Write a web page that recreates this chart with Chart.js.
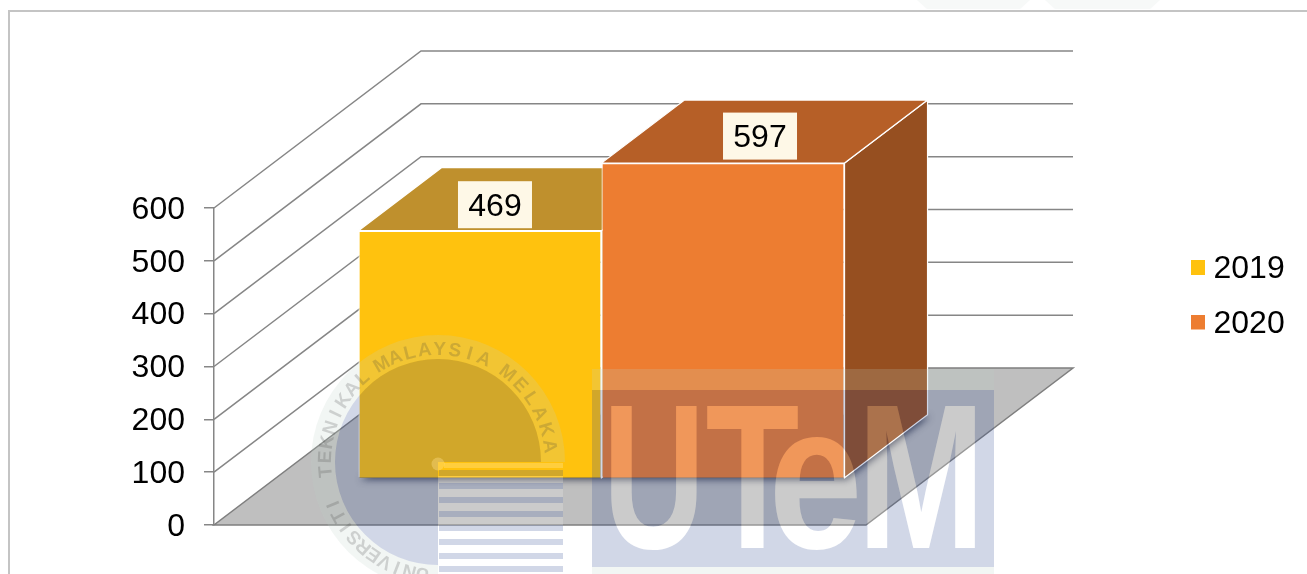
<!DOCTYPE html>
<html>
<head>
<meta charset="utf-8">
<style>html,body{margin:0;padding:0;background:#fff;overflow:hidden}canvas{display:block}</style>
<script src="https://cdn.jsdelivr.net/npm/chart.js@4"></script>
</head>
<body>
<div style="width:1307px;height:574px"><canvas id="c" width="1307" height="574"></canvas></div>
<script>
const categories = [''];
const seriesNames = ['2019', '2020'];
const values2019 = [469];
const values2020 = [597];
const yTicks = [0, 100, 200, 300, 400, 500, 600];
const frontColors = ['#FFC20E', '#ED7D31'];
const topColors = ['#BF902D', '#B65F27'];
const sideColors = ['#966F1E', '#964F20'];
const labelOffsets = [[15, -26], [37, -27]];

const FONT = '"Liberation Sans", Arial, sans-serif';
const GRID = '#868686';
const WALL = { dx: 207, dy: -157 };
const BAR_SHIFT = { dx: 61.5, dy: -46.5 };
const BAR_DEPTH = { dx: 83, dy: -63 };

function poly(ctx, pts) {
  ctx.beginPath();
  pts.forEach((p, i) => i ? ctx.lineTo(p[0], p[1]) : ctx.moveTo(p[0], p[1]));
  ctx.closePath();
}

const frame = {
  id: 'frame',
  beforeDraw(chart) {
    const ctx = chart.ctx;
    ctx.save();
    ctx.fillStyle = '#fff';
    ctx.fillRect(0, 0, 1307, 574);
    ctx.fillStyle = '#F7F9F8';
    poly(ctx, [[917, 0], [1030, 0], [1020, 9], [927, 9]]); ctx.fill();
    poly(ctx, [[1045, 0], [1160, 0], [1150, 9], [1055, 9]]); ctx.fill();
    ctx.strokeStyle = '#C4C4C4';
    ctx.lineWidth = 2;
    ctx.beginPath(); ctx.moveTo(9, 574); ctx.lineTo(9, 11); ctx.lineTo(1307, 11); ctx.stroke();
    ctx.restore();
  }
};

const walls3d = {
  id: 'walls3d',
  beforeDatasetsDraw(chart) {
    const ctx = chart.ctx, a = chart.chartArea, y = chart.scales.y;
    ctx.save();
    ctx.strokeStyle = GRID;
    ctx.lineWidth = 1.5;
    yTicks.forEach(v => {
      const py = y.getPixelForValue(v);
      if (v === 0) return;
      ctx.beginPath();
      ctx.moveTo(a.left, py);
      ctx.lineTo(a.left + WALL.dx, py + WALL.dy);
      ctx.lineTo(a.right + WALL.dx, py + WALL.dy);
      ctx.stroke();
    });
    const b = y.getPixelForValue(0);
    const floor = [[a.left, b], [a.right, b], [a.right + WALL.dx, b + WALL.dy], [a.left + WALL.dx, b + WALL.dy]];
    poly(ctx, floor);
    ctx.fillStyle = '#BFBFBF';
    ctx.fill();
    ctx.strokeStyle = '#7F7F7F';
    ctx.stroke();

    // floor shadow, clipped to the floor
    const m0 = chart.getDatasetMeta(0).data[0], m1 = chart.getDatasetMeta(1).data[0];
    const l = m0.x - m0.width / 2 + BAR_SHIFT.dx, r = m1.x + m1.width / 2 + BAR_SHIFT.dx, base = m0.base + BAR_SHIFT.dy;
    ctx.save();
    poly(ctx, floor); ctx.clip();
    ctx.shadowColor = 'rgba(20,25,50,0.7)';
    ctx.shadowBlur = 7;
    ctx.shadowOffsetX = 2;
    ctx.shadowOffsetY = 2;
    ctx.fillStyle = '#555';
    poly(ctx, [[l, base], [r, base], [r + BAR_DEPTH.dx, base + BAR_DEPTH.dy], [l + BAR_DEPTH.dx, base + BAR_DEPTH.dy]]);
    ctx.fill();
    ctx.restore();

    // 3D faces, then the library's own front faces in the same shifted frame
    ctx.restore();
    ctx.save();
    ctx.translate(BAR_SHIFT.dx, BAR_SHIFT.dy);
    ctx.lineWidth = 1.2;
    ctx.strokeStyle = '#fff';
    [0, 1].forEach(i => {
      const e = chart.getDatasetMeta(i).data[0];
      const l2 = e.x - e.width / 2, r2 = e.x + e.width / 2, t = e.y, bb = e.base;
      const dx = BAR_DEPTH.dx, dy = BAR_DEPTH.dy;
      poly(ctx, [[r2, t], [r2 + dx, t + dy], [r2 + dx, bb + dy], [r2, bb]]);
      ctx.fillStyle = sideColors[i]; ctx.fill(); ctx.stroke();
      poly(ctx, [[l2, t], [r2, t], [r2 + dx, t + dy], [l2 + dx, t + dy]]);
      ctx.fillStyle = topColors[i]; ctx.fill(); ctx.stroke();
    });
  },
  afterDatasetsDraw(chart) {
    const ctx = chart.ctx;
    ctx.restore();
    ctx.save();
    ctx.font = '32px ' + FONT;
    ctx.textAlign = 'center';
    ctx.textBaseline = 'middle';
    chart.data.datasets.forEach((ds, i) => {
      const e = chart.getDatasetMeta(i).data[0];
      const cx = e.x + BAR_SHIFT.dx + labelOffsets[i][0];
      const cy = e.y + BAR_SHIFT.dy + labelOffsets[i][1];
      ctx.fillStyle = '#FEF8E7';
      ctx.fillRect(cx - 37, cy - 23.5, 74, 47);
      ctx.fillStyle = '#000';
      ctx.fillText(String(ds.data[0]), cx, cy + 2);
    });
    ctx.restore();
  }
};

const legendPlace = {
  id: 'legendPlace',
  afterLayout(chart) {
    const lg = chart.legend;
    if (!lg) return;
    const w = lg.width, h = lg.height;
    lg.left = 1174; lg.top = 231;
    lg.right = lg.left + w; lg.bottom = lg.top + h;
  }
};

const stripeTops = [470, 483, 497, 511, 525, 539, 553, 566];
const watermark = {
  id: 'watermark',
  afterDraw(chart) {
    const ctx = chart.ctx;
    ctx.save();
    const cx = 438, cy = 462, R = 127, r = 103;
    const blue = 'rgba(45,73,145,0.22)';
    const pale = 'rgba(190,210,200,0.2)';
    const lite = 'rgba(255,255,255,0.2)';

    // ring (three quarters)
    ctx.fillStyle = pale;
    ctx.beginPath();
    ctx.arc(cx, cy, R, Math.PI / 2, Math.PI * 2, false);
    ctx.arc(cx, cy, r, Math.PI * 2, Math.PI / 2, true);
    ctx.closePath();
    ctx.fill();

    // disc with the pointer knocked out of it
    const sOff = document.createElement('canvas');
    sOff.width = 1307; sOff.height = 574;
    const s = sOff.getContext('2d');
    s.fillStyle = blue;
    s.beginPath();
    s.moveTo(cx, cy);
    s.arc(cx, cy, r, Math.PI / 2, Math.PI * 2, false);
    s.closePath();
    s.fill();
    s.globalCompositeOperation = 'destination-out';
    s.beginPath(); s.arc(cx, 464, 6.5, 0, Math.PI * 2); s.fill();
    ctx.drawImage(sOff, 0, 0);

    // stripes and pointer
    ctx.fillStyle = lite;
    ctx.fillRect(cx, 476, 125, 98);
    ctx.fillRect(cx + 6, 463, 119, 5);
    ctx.beginPath(); ctx.arc(cx, 464, 6.5, 0, Math.PI * 2); ctx.fill();
    ctx.fillStyle = blue;
    stripeTops.forEach(t => ctx.fillRect(cx + 1, t, 124, 6));

    // lettering round the seal
    ctx.font = 'bold 19px ' + FONT;
    ctx.textAlign = 'center';
    ctx.textBaseline = 'alphabetic';
    ctx.fillStyle = 'rgba(60,60,60,0.2)';
    const arcs = [['UNIVERSITI', -172, -112], ['TEKNIKAL', -95, -42], ['MALAYSIA', -30, 24], ['MELAKA', 38, 82]];
    arcs.forEach(([txt, a0, a1]) => {
      const step = (a1 - a0) / (txt.length - 1);
      [...txt].forEach((ch, i) => {
        const a = (a0 + step * i) * Math.PI / 180;
        ctx.save();
        ctx.translate(cx, cy);
        ctx.rotate(a);
        ctx.fillText(ch, 0, -107);
        ctx.restore();
      });
    });

    // UTeM block
    const off = document.createElement('canvas');
    off.width = 1307; off.height = 574;
    const o = off.getContext('2d');
    o.fillStyle = pale;
    o.fillRect(592, 369, 402, 21);
    o.fillRect(592, 567, 402, 7);
    o.fillStyle = blue;
    o.fillRect(592, 390, 402, 177);
    const letters = [['U', 611, 697], ['T', 707, 798], ['e', 775, 857], ['M', 867, 975]];
    const drawLetter = (c, ch, x0, x1) => {
      c.save();
      c.font = 'bold 206px ' + FONT;
      c.textAlign = 'left';
      c.textBaseline = 'alphabetic';
      const m = c.measureText(ch);
      const gw = m.actualBoundingBoxRight + m.actualBoundingBoxLeft;
      const sx = (x1 - x0) / gw;
      c.translate(x0 + m.actualBoundingBoxLeft * sx, 548);
      c.scale(sx, 1);
      c.fillText(ch, 0, 0);
      c.restore();
    };
    o.globalCompositeOperation = 'destination-out';
    o.fillStyle = '#000';
    letters.forEach(l => drawLetter(o, l[0], l[1], l[2]));
    ctx.drawImage(off, 0, 0);
    ctx.fillStyle = lite;
    letters.forEach(l => drawLetter(ctx, l[0], l[1], l[2]));
    ctx.restore();
  }
};

function swatch(color) {
  const s = document.createElement('canvas');
  s.width = 22; s.height = 19;
  const c = s.getContext('2d');
  c.fillStyle = color;
  c.fillRect(5, 0, 14, 15);
  return s;
}
const swatches = frontColors.map(swatch);

const chart = new Chart(document.getElementById('c'), {
  type: 'bar',
  data: {
    labels: categories,
    datasets: [
      { label: seriesNames[0], data: values2019, backgroundColor: frontColors[0], borderColor: '#fff', borderWidth: 1.2, clip: false },
      { label: seriesNames[1], data: values2020, backgroundColor: frontColors[1], borderColor: '#fff', borderWidth: 1.2, clip: false }
    ]
  },
  options: {
    responsive: false,
    animation: false,
    devicePixelRatio: 1,
    layout: { padding: { top: 208, bottom: 49, left: 0, right: 300 } },
    datasets: { bar: { categoryPercentage: 0.7455, barPercentage: 1 } },
    scales: {
      x: { display: false },
      y: {
        min: 0, max: 600,
        afterFit(s) { s.width = 214; },
        afterBuildTicks(s) { s.ticks = yTicks.map(v => ({ value: v })); },
        border: { color: GRID, width: 1.5 },
        grid: { drawOnChartArea: false, drawTicks: true, tickLength: 10, color: GRID, lineWidth: 1.5 },
        ticks: { color: '#000', padding: 19, labelOffset: 2, font: { family: FONT, size: 32 } }
      }
    },
    plugins: {
      tooltip: { enabled: false },
      legend: {
        position: 'right',
        align: 'start',
        labels: {
          color: '#000',
          font: { family: FONT, size: 32 },
          usePointStyle: true,
          pointStyleWidth: 1,
          padding: 22.5,
          generateLabels(c) {
            return Chart.defaults.plugins.legend.labels.generateLabels(c).map((it, i) => {
              it.pointStyle = swatches[i];
              return it;
            });
          }
        }
      }
    }
  },
  plugins: [frame, walls3d, legendPlace, watermark]
});
chart.options.layout.padding.right = 1307 - 866 - chart.legend.width;
chart.update('none');
</script>
</body>
</html>
